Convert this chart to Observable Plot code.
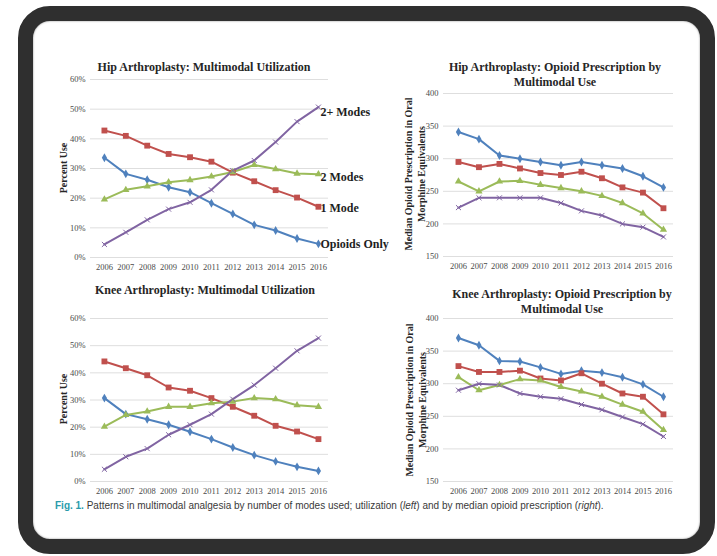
<!DOCTYPE html>
<html>
<head>
<meta charset="utf-8">
<script src="https://cdn.jsdelivr.net/npm/d3@7"></script>
<script src="https://cdn.jsdelivr.net/npm/@observablehq/plot@0.6"></script>
<style>
  html, body { margin:0; padding:0; background:#fff; }
  #stage { position:relative; width:717px; height:556px; overflow:hidden; background:#fff; }
  #frame { position:absolute; left:18px; top:6px; width:697px; height:548px; box-sizing:border-box;
           border:15px solid #2f2f2f; border-radius:32px; background:#fff;
           box-shadow: inset 0 0 2px rgba(0,0,0,0.5); }
  .chart { position:absolute; }
  .title { position:absolute; transform:translateX(-50%); white-space:nowrap; text-align:center;
           font-family:'Liberation Serif', 'Times New Roman', serif; font-weight:bold; font-size:12px;
           line-height:15px; color:#262626; }
  .ytitle { position:absolute; transform:translate(-50%,-50%) rotate(-90deg); white-space:nowrap; text-align:center;
           font-family:'Liberation Serif', 'Times New Roman', serif; font-weight:bold; font-size:10px;
           line-height:13px; color:#262626; }
  #caption { position:absolute; left:55px; top:500px; white-space:nowrap;
             font-family:'Liberation Sans', Arial, sans-serif; font-size:10px; color:#3a3a3a; }
  #caption b { color:#2a9bab; font-weight:bold; }
</style>
</head>
<body>
<div id="stage">
  <div id="frame"></div>
</div>
<script>
// ---- data ----
const years = [2006, 2007, 2008, 2009, 2010, 2011, 2012, 2013, 2014, 2015, 2016];
const seriesNames = ["Opioids Only", "1 Mode", "2 Modes", "2+ Modes"];
const seriesColors = ["#4F81BD", "#C0504D", "#9BBB59", "#8064A2"];
const seriesSymbols = ["diamond", "square", "triangle", "times"];

const useTicks = [0, 10, 20, 30, 40, 50, 60];
const mmeTicks = [150, 200, 250, 300, 350, 400];

// Hip utilization (percent use)
const hipUseOpioidsOnly = [33.6, 28.2, 26.2, 23.7, 22.0, 18.3, 14.7, 11.0, 9.1, 6.4, 4.6];
const hipUse1Mode       = [42.8, 41.0, 37.7, 34.9, 33.8, 32.3, 28.6, 25.7, 22.7, 20.2, 17.1];
const hipUse2Modes      = [19.6, 22.8, 24.0, 25.4, 26.1, 27.3, 28.8, 31.2, 29.8, 28.3, 28.1];
const hipUse2PlusModes  = [4.4, 8.5, 12.7, 16.3, 18.6, 22.8, 29.3, 32.7, 38.9, 45.8, 50.7];

// Hip median opioid prescription (MME)
const hipMmeOpioidsOnly = [341, 330, 305, 300, 295, 290, 295, 290, 285, 273, 256];
const hipMme1Mode       = [295, 287, 292, 285, 278, 275, 280, 270, 256, 248, 224];
const hipMme2Modes      = [265, 250, 265, 266, 260, 255, 250, 243, 232, 216, 191];
const hipMme2PlusModes  = [225, 240, 240, 240, 240, 232, 220, 213, 200, 195, 180];

// Knee utilization (percent use)
const kneeUseOpioidsOnly = [30.7, 24.8, 22.9, 20.9, 18.3, 15.6, 12.5, 9.7, 7.4, 5.4, 3.9];
const kneeUse1Mode       = [44.2, 41.7, 39.1, 34.6, 33.4, 30.7, 27.5, 24.2, 20.5, 18.4, 15.6];
const kneeUse2Modes      = [20.2, 24.5, 25.8, 27.5, 27.5, 28.8, 29.4, 30.7, 30.3, 28.1, 27.5];
const kneeUse2PlusModes  = [4.5, 9.1, 12.1, 17.2, 20.9, 24.8, 30.3, 35.5, 41.7, 48.1, 52.8];

// Knee median opioid prescription (MME)
const kneeMmeOpioidsOnly = [370, 359, 335, 334, 325, 315, 320, 317, 310, 299, 280];
const kneeMme1Mode       = [327, 318, 318, 320, 308, 305, 316, 300, 285, 280, 253];
const kneeMme2Modes      = [310, 290, 298, 307, 305, 295, 288, 280, 268, 257, 229];
const kneeMme2PlusModes  = [290, 300, 298, 285, 280, 277, 268, 260, 249, 238, 219];

const chartTitles = [
  "Hip Arthroplasty: Multimodal Utilization",
  "Hip Arthroplasty: Opioid Prescription by<br>Multimodal Use",
  "Knee Arthroplasty: Multimodal Utilization",
  "Knee Arthroplasty: Opioid Prescription by<br>Multimodal Use"
];
const useAxisTitle = "Percent Use";
const mmeAxisTitle = "Median Opioid Prescription in Oral<br>Morphine Equivalents";

// ---- helpers ----
function tidy(arrays) {
  return arrays.flatMap((vals, i) => vals.map((v, j) => ({ series: seriesNames[i], year: years[j], value: v })));
}

const stage = document.getElementById("stage");

function addDiv(cls, html, x, y) {
  const d = document.createElement("div");
  d.className = cls;
  d.innerHTML = html;
  d.style.left = x + "px";
  d.style.top = y + "px";
  stage.appendChild(d);
  return d;
}

function makeChart(opt) {
  const data = tidy(opt.arrays);
  const marks = [
    Plot.ruleY(opt.yTicks, { stroke: "#dedede", strokeWidth: 1 }),
    ...seriesNames.map((s, i) =>
      Plot.line(data.filter(d => d.series === s), { x: "year", y: "value", stroke: seriesColors[i], strokeWidth: 2 })
    ),
    ...seriesNames.map((s, i) => {
      const sym = seriesSymbols[i];
      const strokeOnly = sym === "times";
      return Plot.dot(data.filter(d => d.series === s), {
        x: "year", y: "value", symbol: sym,
        r: sym === "square" ? 3.3 : sym === "times" ? 2.4 : 2.7,
        fill: strokeOnly ? "none" : seriesColors[i],
        stroke: strokeOnly ? seriesColors[i] : "none",
        strokeWidth: strokeOnly ? 1 : 0
      });
    })
  ];
  if (opt.endLabels) {
    const labelDy = { "Opioids Only": 0, "1 Mode": 1, "2 Modes": 3, "2+ Modes": 5 };
    seriesNames.forEach(s => {
      marks.push(Plot.text(data.filter(d => d.series === s && d.year === years[years.length - 1]), {
        x: "year", y: "value", text: "series", textAnchor: "start", dx: 2, dy: labelDy[s],
        fontWeight: "bold", fontSize: 12, fill: "#1e1e1e",
        fontFamily: "'Liberation Serif', 'Times New Roman', serif"
      }));
    });
  }
  const svg = Plot.plot({
    width: opt.width, height: opt.height,
    marginLeft: opt.ml, marginRight: opt.mr, marginTop: opt.mt, marginBottom: opt.mb,
    style: { fontFamily: "'Liberation Serif', 'Times New Roman', serif", fontSize: "8.5px", color: "#4a4a4a", background: "transparent", overflow: "visible" },
    x: { type: "linear", domain: opt.xDomain, ticks: years, tickFormat: d => String(d), tickSize: 0, tickPadding: 6, label: null },
    y: { domain: opt.yDomain, ticks: opt.yTicks, tickFormat: opt.yFormat, tickSize: 0, tickPadding: 5, label: null },
    marks
  });
  const wrap = document.createElement("div");
  wrap.className = "chart";
  wrap.style.left = opt.left + "px";
  wrap.style.top = opt.top + "px";
  wrap.appendChild(svg);
  stage.appendChild(wrap);
}

// ---- charts ----
makeChart({ left: 40, top: 70, width: 360, height: 210, ml: 50, mr: 72, mt: 9, mb: 23,
  xDomain: [2005.35, 2016.47], yDomain: [0, 60], yTicks: useTicks, yFormat: d => d + "%",
  arrays: [hipUseOpioidsOnly, hipUse1Mode, hipUse2Modes, hipUse2PlusModes], endLabels: true });

makeChart({ left: 380, top: 85, width: 310, height: 195, ml: 63, mr: 17, mt: 8, mb: 24,
  xDomain: [2005.27, 2016.49], yDomain: [150, 400], yTicks: mmeTicks, yFormat: d => String(d),
  arrays: [hipMmeOpioidsOnly, hipMme1Mode, hipMme2Modes, hipMme2PlusModes], endLabels: false });

makeChart({ left: 40, top: 305, width: 360, height: 200, ml: 50, mr: 72, mt: 13, mb: 24,
  xDomain: [2005.35, 2016.47], yDomain: [0, 60], yTicks: useTicks, yFormat: d => d + "%",
  arrays: [kneeUseOpioidsOnly, kneeUse1Mode, kneeUse2Modes, kneeUse2PlusModes], endLabels: false });

makeChart({ left: 380, top: 305, width: 310, height: 200, ml: 63, mr: 17, mt: 13, mb: 24,
  xDomain: [2005.27, 2016.49], yDomain: [150, 400], yTicks: mmeTicks, yFormat: d => String(d),
  arrays: [kneeMmeOpioidsOnly, kneeMme1Mode, kneeMme2Modes, kneeMme2PlusModes], endLabels: false });

// ---- titles ----
addDiv("title", chartTitles[0], 204, 60);
addDiv("title", chartTitles[1], 555, 60);
addDiv("title", chartTitles[2], 205, 283);
addDiv("title", chartTitles[3], 562, 287);

addDiv("ytitle", useAxisTitle, 63, 168);
addDiv("ytitle", mmeAxisTitle, 415, 174);
addDiv("ytitle", useAxisTitle, 63, 399);
addDiv("ytitle", mmeAxisTitle, 416, 400);

const cap = document.createElement("div");
cap.id = "caption";
cap.innerHTML = "<b>Fig. 1.</b> Patterns in multimodal analgesia by number of modes used; utilization (<i>left</i>) and by median opioid prescription (<i>right</i>).";
stage.appendChild(cap);
</script>
</body>
</html>
